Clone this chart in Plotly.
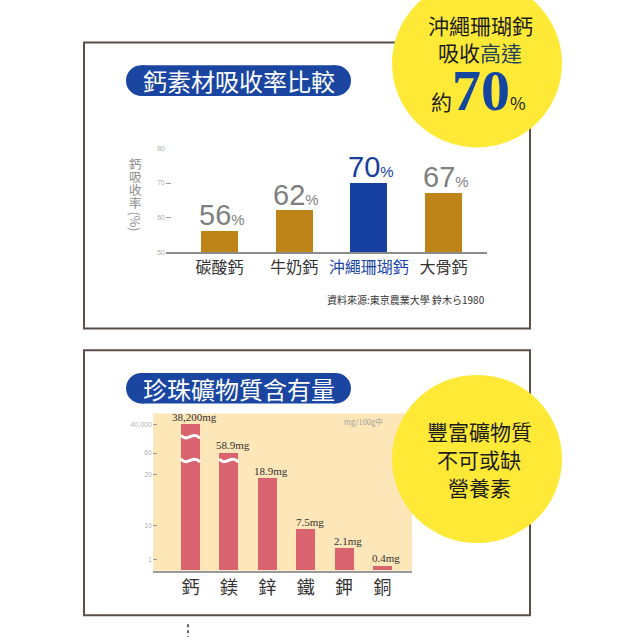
import numpy as np
import plotly.graph_objects as go

# ---------------- data ----------------
abs_categories = ["碳酸鈣", "牛奶鈣", "沖繩珊瑚鈣", "大骨鈣"]
abs_values = [56, 62, 70, 67]
abs_ticks = [50, 60, 70, 80]
highlight = "沖繩珊瑚鈣"

min_categories = ["鈣", "鎂", "鋅", "鐵", "鉀", "銅"]
min_values = [38200, 58.9, 18.9, 7.5, 2.1, 0.4]
min_labels = ["38,200mg", "58.9mg", "18.9mg", "7.5mg", "2.1mg", "0.4mg"]
min_tick_values = [1, 10, 20, 60, 40000]
min_tick_labels = ["1", "10", "20", "60", "40,000"]

# broken (illustrative) axis of the mineral chart: log-value knots -> axis level
scale_knot_values = [0.2, 1, 10, 20, 60, 40000]
scale_knot_levels = [0, 11, 46, 97, 119, 148]


def broken(v):
    return float(np.interp(np.log10(v), np.log10(scale_knot_values), scale_knot_levels))


# ---------------- style ----------------
W = H = 640
CJK = "Noto Sans CJK TC"
GOLD = "#bf8418"
BLUE = "#1641a0"
PILL = "#1a46a2"
YELLOW = "#fde936"
PINK = "#d9646f"
BEIGE = "#fde6b8"
FRAME = "#5b4e49"


def px(x):
    return x / W


def py(y):
    return 1 - y / H


fig = go.Figure()

fig.add_bar(
    x=list(range(len(abs_categories))), y=abs_values, width=0.495,
    marker=dict(color=[BLUE if c == highlight else GOLD for c in abs_categories], line=dict(width=0)),
    xaxis="x", yaxis="y", hoverinfo="skip",
)
fig.add_bar(
    x=list(range(len(min_categories))), y=[broken(v) for v in min_values], width=0.495,
    marker=dict(color=PINK, line=dict(width=0)),
    xaxis="x2", yaxis="y2", hoverinfo="skip",
)

shapes = []
# frames
shapes.append(dict(type="rect", xref="paper", yref="paper", x0=px(84), x1=px(530), y0=py(39), y1=py(328),
                   line=dict(color=FRAME, width=2), fillcolor="rgba(0,0,0,0)", layer="above"))
shapes.append(dict(type="rect", xref="paper", yref="paper", x0=px(84), x1=px(530), y0=py(350), y1=py(618),
                   line=dict(color=FRAME, width=2), fillcolor="rgba(0,0,0,0)", layer="above"))
# beige plot background
shapes.append(dict(type="rect", xref="x2 domain", yref="y2 domain", x0=0, x1=1, y0=0, y1=1,
                   fillcolor=BEIGE, line=dict(width=0), layer="below"))


def pill(x0, x1, y0, y1):
    r = (y1 - y0) / 2
    out = [dict(type="rect", xref="paper", yref="paper", x0=px(x0 + r), x1=px(x1 - r), y0=py(y1), y1=py(y0),
                fillcolor=PILL, line=dict(width=0), layer="above")]
    for cx in (x0 + r, x1 - r):
        out.append(dict(type="circle", xref="paper", yref="paper", x0=px(cx - r), x1=px(cx + r),
                        y0=py(y1), y1=py(y0), fillcolor=PILL, line=dict(width=0), layer="above"))
    return out


shapes += pill(126, 351, 62, 93)
shapes += pill(126, 351, 373, 404)


def disc(cx, cy, r):
    return dict(type="circle", xref="paper", yref="paper", x0=px(cx - r), x1=px(cx + r),
                y0=py(cy + r), y1=py(cy - r), fillcolor=YELLOW, line=dict(width=0), layer="above")


shapes.append(disc(477, 60, 85))
shapes.append(disc(477, 460, 85))

# wavy break marks on the truncated bars (index, axis level)
break_marks = [(0, 135), (0, 111), (1, 111)]
for i, lv in break_marks:
    x0, x1 = i - 0.2475, i + 0.2475
    w = x1 - x0
    shapes.append(dict(type="path", xref="x2", yref="y2",
                       path=f"M {x0},{lv+2} C {x0+0.3*w},{lv-6} {x0+0.6*w},{lv+7} {x1},{lv-1}",
                       line=dict(color="white", width=3), layer="above"))

# small dotted mark at bottom
shapes.append(dict(type="line", xref="paper", yref="paper", x0=px(188), x1=px(188), y0=py(627), y1=py(640),
                   line=dict(color="#333", width=1.5, dash="dot")))

ann = []


def label(x, y, text, size, color="#1c1c1c", family=CJK, **kw):
    d = dict(x=px(x), y=py(y), xref="paper", yref="paper", text=text, xanchor="center", yanchor="middle",
             font=dict(family=family, size=size, color=color), showarrow=False)
    d.update(kw)
    ann.append(d)


# titles
label(239, 77.5, "鈣素材吸收率比較", 24, "white")
label(239, 388.5, "珍珠礦物質含有量", 24, "white")

# top circle text
label(480, 21, "沖繩珊瑚鈣", 21)
label(480, 49, "吸收<span style='color:#24445a'>高達</span>", 21)
label(478, 122, "約<span style='font-size:58px;font-family:Liberation Serif;font-weight:bold;color:#1446a0'>70</span>"
                "<span style='font-size:17px'>%</span>", 21, yanchor="bottom")

# bottom circle text
for txt, yy in (("豐富礦物質", 432), ("不可或缺", 460), ("營養素", 488)):
    label(479, yy, txt, 21)

# vertical axis title of the absorption chart (stacked characters + rotated unit)
y_title = "鈣吸收率"
for k, ch in enumerate(y_title):
    label(135, 161 + 13.2 * k, ch, 12.5, "#8a8a8a")
label(135, 220, "(%)", 12.5, "#8a8a8a", textangle=90)

# value labels on absorption bars
for i, (c, v) in enumerate(zip(abs_categories, abs_values)):
    col = "#163f9c" if c == highlight else "#7f7f7f"
    ann.append(dict(x=i, y=v, xref="x", yref="y", xanchor="center", yanchor="bottom", xshift=2, yshift=-2,
                    text=f"{v}<span style='font-size:15px'>%</span>",
                    font=dict(family="Liberation Sans", size=29, color=col), showarrow=False))

# source
label(406, 299, "資料來源:東京農業大學 鈴木ら1980", 10, "#333")

# value labels on mineral bars
for i, (v, lab) in enumerate(zip(min_values, min_labels)):
    ann.append(dict(x=i, y=broken(v), xref="x2", yref="y2", xanchor="center", yanchor="bottom", xshift=4, yshift=0,
                    text=lab, font=dict(family="Liberation Serif", size=11, color="#333"), showarrow=False))

label(363, 422, "mg/100g中", 7.5, "#a0a0a0")

fig.update_layout(
    width=W, height=H, autosize=False,
    margin=dict(l=0, r=0, t=0, b=0),
    paper_bgcolor="white", plot_bgcolor="rgba(0,0,0,0)",
    showlegend=False, bargap=0,
    shapes=shapes, annotations=ann,
    xaxis=dict(domain=[px(166), px(487)], range=[-0.7165, 3.582], anchor="y",
               tickvals=list(range(len(abs_categories))),
               ticktext=[f"<span style='color:#1a47a6'>{c}</span>" if c == highlight else c for c in abs_categories],
               tickfont=dict(family=CJK, size=16, color="#333"), ticks="",
               showline=True, linecolor="#8c8c8c", linewidth=2, showgrid=False, zeroline=False),
    yaxis=dict(domain=[py(251), py(146)], range=[50, 80], anchor="x", tickvals=abs_ticks,
               ticks="inside", ticklen=5, tickcolor="#9a9a9a", tickwidth=1,
               tickfont=dict(family="Liberation Sans", size=7, color="#b0b0b0"),
               showline=False, showgrid=False, zeroline=False),
    xaxis2=dict(domain=[px(153), px(412)], range=[-0.977, 5.77], anchor="y2",
                tickvals=list(range(len(min_categories))), ticktext=min_categories,
                tickfont=dict(family=CJK, size=18, color="#333"), ticks="",
                showline=True, linecolor="#9a9a9a", linewidth=2, showgrid=False, zeroline=False),
    yaxis2=dict(domain=[py(573), py(414)], range=[0, 159], anchor="x2",
                tickvals=[broken(t) for t in min_tick_values], ticktext=min_tick_labels,
                ticks="inside", ticklen=4, tickcolor="#9a9a9a", tickwidth=1,
                tickfont=dict(family="Liberation Sans", size=7, color="#b0b0b0"),
                showline=False, showgrid=False, zeroline=False),
)

fig.write_html("out.html")
